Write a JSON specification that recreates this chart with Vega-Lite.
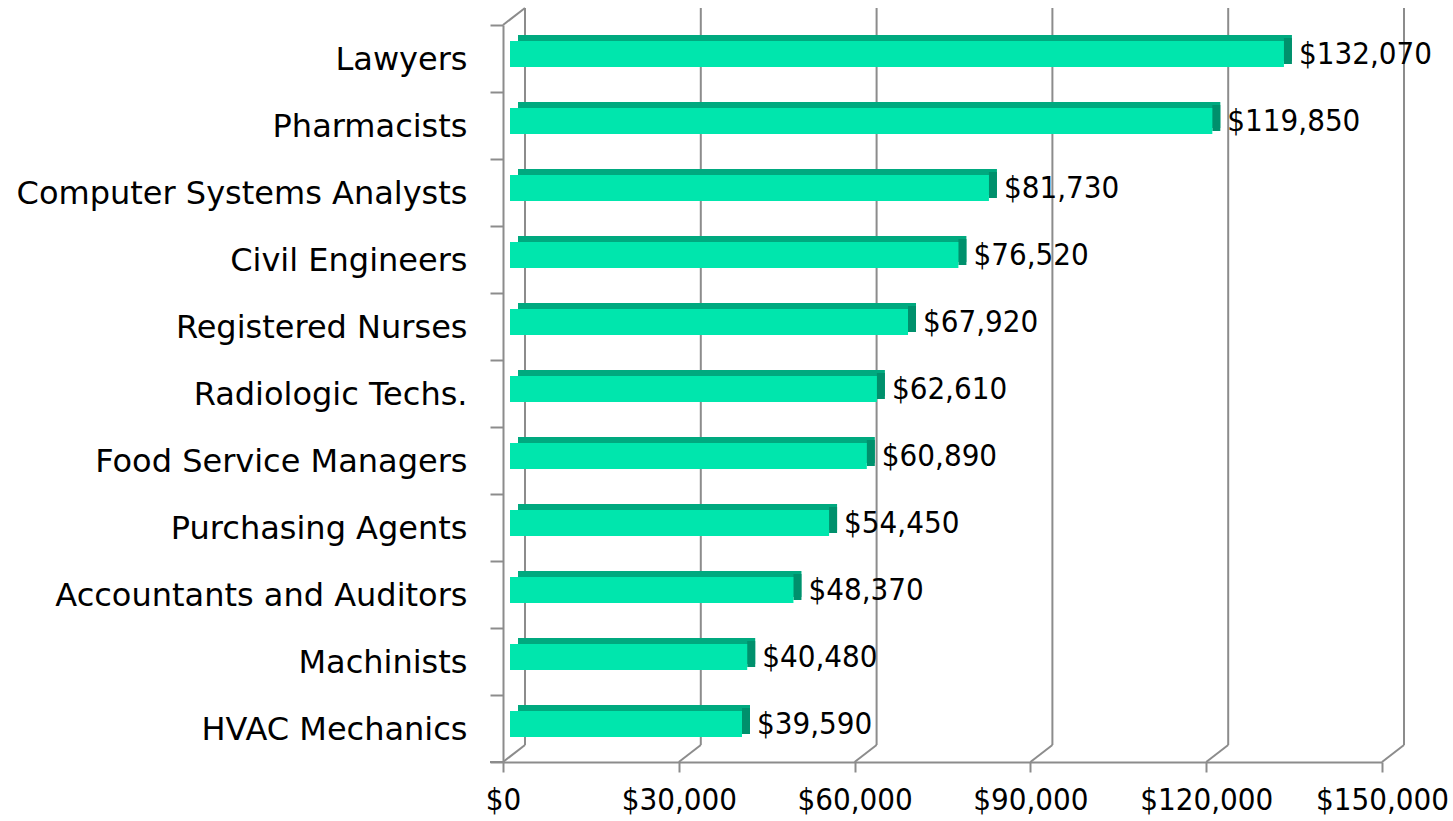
{
  "$schema": "https://vega.github.io/schema/vega-lite/v6.json",
  "width": 879,
  "height": 737,
  "autosize": "none",
  "padding": {"left": 503, "top": 25, "right": 71, "bottom": 59},
  "background": "white",
  "config": {"view": {"stroke": null}, "font": "DejaVu Sans Condensed"},
  "datasets": {
    "jobs": [
      {"job": "Lawyers", "salary": 132070},
      {"job": "Pharmacists", "salary": 119850},
      {"job": "Computer Systems Analysts", "salary": 81730},
      {"job": "Civil Engineers", "salary": 76520},
      {"job": "Registered Nurses", "salary": 67920},
      {"job": "Radiologic Techs.", "salary": 62610},
      {"job": "Food Service Managers", "salary": 60890},
      {"job": "Purchasing Agents", "salary": 54450},
      {"job": "Accountants and Auditors", "salary": 48370},
      {"job": "Machinists", "salary": 40480},
      {"job": "HVAC Mechanics", "salary": 39590}
    ],
    "ticks": [{"v": 0}, {"v": 30000}, {"v": 60000}, {"v": 90000}, {"v": 120000}, {"v": 150000}]
  },
  "resolve": {"scale": {"y": "independent"}},
  "layer": [
    {
      "data": {"name": "ticks"},
      "encoding": {
        "x": {"field": "v", "type": "quantitative", "scale": {"domain": [0, 150000], "nice": false, "zero": false},
          "axis": {"values": [0, 30000, 60000, 90000, 120000, 150000], "format": "$,.0f", "title": null, "grid": false,
            "labelFontSize": 31, "labelColor": "#000000", "labelFont": "DejaVu Sans Condensed", "labelPadding": 13,
            "tickSize": 10, "tickWidth": 2, "tickColor": "#8c8c8c", "domainColor": "#8c8c8c", "domainWidth": 2, "labelFlush": false}}
      },
      "layer": [
        {
          "mark": {"type": "rule", "color": "#8c8c8c", "strokeWidth": 2, "xOffset": 22, "yOffset": -17, "y2Offset": -17},
          "encoding": {
            "y": {"datum": 0, "type": "quantitative", "scale": {"domain": [0, 1]}, "axis": null},
            "y2": {"datum": 1}
          }
        },
        {
          "mark": {"type": "rule", "color": "#8c8c8c", "strokeWidth": 2, "x2Offset": 22, "y2Offset": -17},
          "encoding": {
            "x2": {"field": "v"},
            "y": {"datum": 0, "type": "quantitative", "scale": {"domain": [0, 1]}, "axis": null},
            "y2": {"datum": 0}
          }
        },
        {
          "transform": [{"filter": "datum.v == 0"}],
          "mark": {"type": "rule", "color": "#8c8c8c", "strokeWidth": 2, "x2Offset": 22, "y2Offset": -17},
          "encoding": {
            "x2": {"field": "v"},
            "y": {"datum": 1, "type": "quantitative", "scale": {"domain": [0, 1]}, "axis": null},
            "y2": {"datum": 1}
          }
        },
        {
          "transform": [{"filter": "datum.v == 0"}],
          "mark": {"type": "rule", "color": "#8c8c8c", "strokeWidth": 2, "xOffset": -13},
          "encoding": {
            "x2": {"field": "v"},
            "y": {"datum": 0, "type": "quantitative", "scale": {"domain": [0, 1]}, "axis": null},
            "y2": {"datum": 0}
          }
        }
      ]
    },
    {
      "data": {"name": "jobs"},
      "encoding": {
        "y": {"field": "job", "type": "nominal", "sort": null, "scale": {"paddingInner": 0, "paddingOuter": 0},
          "axis": {"title": null, "labelFontSize": 32, "labelColor": "#000000", "labelFont": "DejaVu Sans",
            "labelPadding": 23, "tickSize": 13, "tickWidth": 2, "tickColor": "#8c8c8c", "tickBand": "extent",
            "domainColor": "#8c8c8c", "domainWidth": 2, "labelLimit": 600, "labelOffset": 1}}
      },
      "layer": [
        {
          "mark": {"type": "bar", "color": "#00A97F", "height": 26, "xOffset": 15, "x2Offset": 15, "yOffset": -10.5},
          "encoding": {"x": {"field": "salary", "type": "quantitative"}, "x2": {"datum": 0}}
        },
        {
          "mark": {"type": "bar", "color": "#00906C", "height": 26, "xOffset": 7, "x2Offset": 15, "yOffset": -7.5},
          "encoding": {"x": {"field": "salary", "type": "quantitative"}, "x2": {"field": "salary"}}
        },
        {
          "mark": {"type": "bar", "color": "#00E6AD", "height": 26, "xOffset": 7, "x2Offset": 7, "yOffset": -4.5},
          "encoding": {"x": {"field": "salary", "type": "quantitative"}, "x2": {"datum": 0}}
        },
        {
          "mark": {"type": "text", "align": "left", "baseline": "middle", "dx": 22, "dy": -4, "fontSize": 31, "font": "DejaVu Sans Condensed", "color": "#000000"},
          "encoding": {"x": {"field": "salary", "type": "quantitative"}, "text": {"field": "salary", "type": "quantitative", "format": "$,"}}
        }
      ]
    }
  ]
}
